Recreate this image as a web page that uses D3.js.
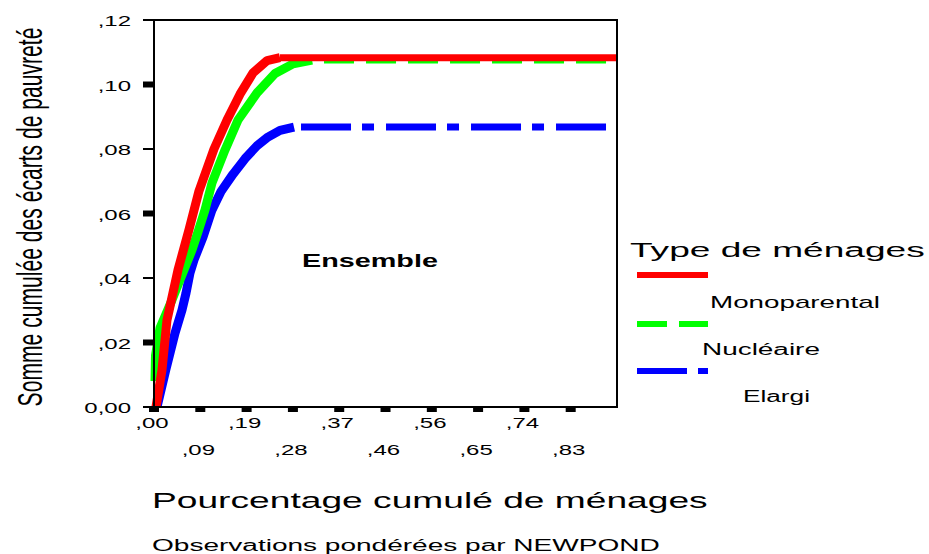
<!DOCTYPE html>
<html>
<head>
<meta charset="utf-8">
<script src="https://cdn.jsdelivr.net/npm/d3@7"></script>
<style>
body { margin: 0; background: #fff; }
</style>
</head>
<body>
<div id="chart"></div>
<script>
var vWidth = 929;
var vHeight = 554;

// tick positions and labels
var xTickValues = [0, 0.0926, 0.1852, 0.2778, 0.3704, 0.463, 0.5556, 0.6481, 0.7407, 0.8333];
var xTickLabels = [",00", ",09", ",19", ",28", ",37", ",46", ",56", ",65", ",74", ",83"];
var yTickValues = [0, 0.02, 0.04, 0.06, 0.08, 0.10, 0.12];
var yTickLabels = ["0,00", ",02", ",04", ",06", ",08", ",10", ",12"];

// series: [pourcentage cumulé, somme cumulée]
var monoparental = [[0.004, 0], [0.016, 0.0115], [0.026, 0.027], [0.048, 0.0425], [0.070, 0.055],
    [0.090, 0.067], [0.120, 0.080], [0.146, 0.089], [0.172, 0.097], [0.198, 0.1036],
    [0.226, 0.1074], [0.252, 0.1083], [0.926, 0.1083]];
var nucleaire = [[0.002, 0.008], [0.003, 0.016], [0.012, 0.0245], [0.036, 0.0332], [0.060, 0.0425],
    [0.076, 0.0487], [0.088, 0.0543], [0.102, 0.0611], [0.116, 0.0695], [0.142, 0.0797],
    [0.168, 0.089], [0.206, 0.0974], [0.242, 0.1034], [0.278, 0.1064], [0.316, 0.1076], [0.926, 0.1076]];
var elargi = [[0.006, 0], [0.024, 0.0118], [0.042, 0.0229], [0.056, 0.0301], [0.064, 0.0353],
    [0.072, 0.0416], [0.080, 0.0456], [0.098, 0.0527], [0.116, 0.0611], [0.134, 0.0668],
    [0.158, 0.0722], [0.182, 0.0770], [0.206, 0.0810], [0.226, 0.0835], [0.252, 0.0858],
    [0.280, 0.0868], [0.926, 0.0868]];

var seriesNames = ["Monoparental", "Nucléaire", "Elargi"];
var seriesData = [monoparental, nucleaire, elargi];
var seriesColors = ["#ff0000", "#00ff00", "#0000ff"];
var seriesDash = [null, "30,12", "50,11,12,12"];
var plateauOffset = [0, 30, 78];

var font = "'Liberation Sans', Arial, sans-serif";

var svg = d3.select("#chart")
    .append("svg")
    .attr("width", vWidth)
    .attr("height", vHeight);

var x = d3.scaleLinear().domain([0, 0.9259]).range([154, 617]);
var y = d3.scaleLinear().domain([0, 0.12]).range([407, 20]);

// text stretched horizontally like the original bitmap
function addText(x0, y0, str, size, opts) {
    opts = opts || {};
    var t = svg.append("text")
        .attr("font-family", font)
        .attr("font-size", size)
        .attr("font-weight", opts.weight || "normal")
        .attr("fill", "#000")
        .text(str);
    var w = t.node().getComputedTextLength();
    var sx = opts.width ? opts.width / w : (opts.sx || 1);
    t.attr("text-anchor", opts.anchor || "start")
        .attr("transform", "translate(" + x0 + "," + y0 + ") scale(" + sx + ",1)");
    return t;
}

// curves: rising part solid (drawn heavier, like the jagged markers), plateau dashed
var line = d3.line().x(d => x(d[0])).y(d => y(d[1]));
[2, 1, 0].forEach(function (i) {
    var pts = seriesData[i];
    var n = pts.length;
    svg.append("path")
        .attr("d", line(pts.slice(0, n - 1)))
        .attr("fill", "none")
        .attr("stroke", seriesColors[i])
        .attr("stroke-width", 9)
        .attr("stroke-linejoin", "round")
        .attr("stroke-linecap", "butt");
    svg.append("path")
        .attr("d", line(pts.slice(n - 2)))
        .attr("fill", "none")
        .attr("stroke", seriesColors[i])
        .attr("stroke-width", 7)
        .attr("stroke-dasharray", seriesDash[i])
        .attr("stroke-dashoffset", plateauOffset[i]);
});

// frame
svg.append("rect")
    .attr("x", x(0))
    .attr("y", y(0.12))
    .attr("width", x(0.9259) - x(0))
    .attr("height", y(0) - y(0.12))
    .attr("fill", "none")
    .attr("stroke", "#000")
    .attr("stroke-width", 2);

// y ticks (alternating thin / thick marks)
yTickValues.forEach(function (v, i) {
    svg.append("line")
        .attr("x1", x(0) - 11).attr("x2", x(0))
        .attr("y1", y(v)).attr("y2", y(v))
        .attr("stroke", "#000")
        .attr("stroke-width", i % 2 ? 6 : 2);
    addText(131, y(v) + 6, yTickLabels[i], 15, { anchor: "end", sx: 1.6 });
});

// x ticks, labels on two rows
xTickValues.forEach(function (v, i) {
    svg.append("rect")
        .attr("x", x(v) - 5).attr("y", 407)
        .attr("width", 10).attr("height", 5)
        .attr("fill", "#000");
    addText(x(v) - 2, i % 2 ? 455 : 428, xTickLabels[i], 15, { anchor: "middle", sx: 1.6 });
});

// y title (rotated)
var yt = svg.append("text")
    .attr("font-family", font)
    .attr("font-size", 21)
    .attr("text-anchor", "middle")
    .text("Somme cumulée des écarts de pauvreté");
var ytw = yt.node().getComputedTextLength();
yt.attr("transform", "translate(42,217) scale(1.7," + (379 / ytw) + ") rotate(-90)");

addText(302, 267, "Ensemble", 18, { weight: "bold", width: 136 });

addText(152, 508, "Pourcentage cumulé de ménages", 22, { width: 556 });
addText(152, 551, "Observations pondérées par NEWPOND", 16, { width: 508 });

// legend
addText(630, 257, "Type de ménages", 21, { width: 295 });
var legendY = [275, 324, 371];
var labelPos = [[710, 308, 17, 170], [702, 355, 16, 118], [743, 402, 16, 67]];
seriesNames.forEach(function (name, i) {
    svg.append("line")
        .attr("x1", 637).attr("x2", 708)
        .attr("y1", legendY[i]).attr("y2", legendY[i])
        .attr("stroke", seriesColors[i])
        .attr("stroke-width", 6)
        .attr("stroke-dasharray", seriesDash[i]);
    var p = labelPos[i];
    addText(p[0], p[1], name, p[2], { width: p[3] });
});
</script>
</body>
</html>
